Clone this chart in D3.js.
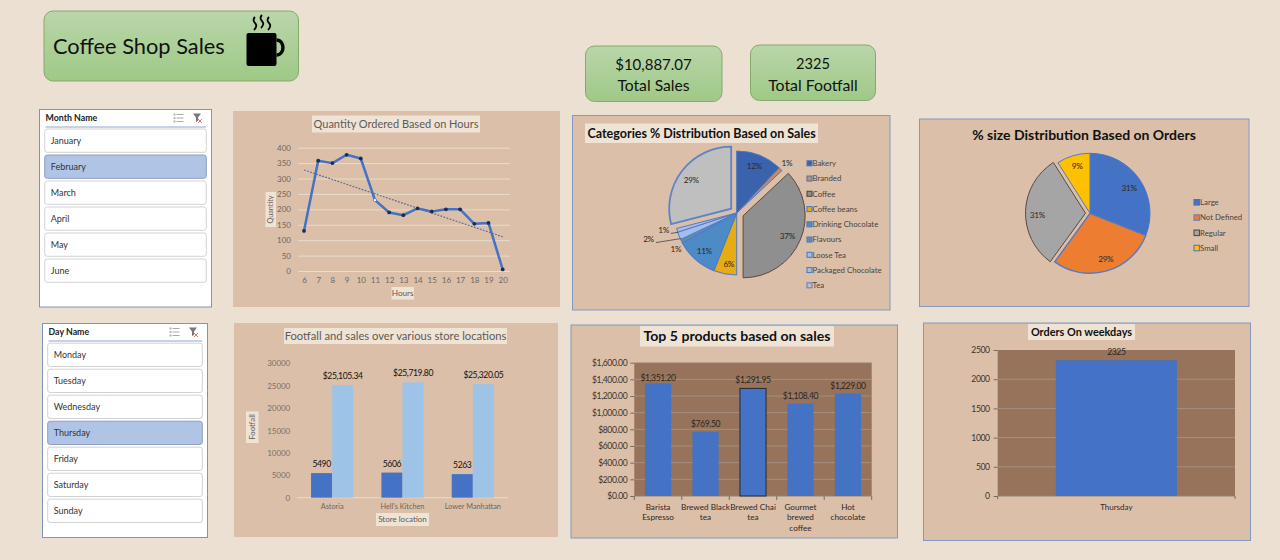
<!DOCTYPE html>
<html>
<head>
<meta charset="utf-8">
<title>Coffee Shop Sales</title>
<script src="https://cdn.jsdelivr.net/npm/d3@7"></script>
<style>
  html, body { margin: 0; padding: 0; background: #ebe0d2; }
  svg { display: block; font-family: Lato, sans-serif; }
  .domain { display: none; }
</style>
</head>
<body>
<svg id="dash" width="1280" height="560"></svg>
<script>
const months = ['January', 'February', 'March', 'April', 'May', 'June'];
const days = ['Monday', 'Tuesday', 'Wednesday', 'Thursday', 'Friday', 'Saturday', 'Sunday'];
const selectedMonth = 'February';
const selectedDay = 'Thursday';

const hours = [6, 7, 8, 9, 10, 11, 12, 13, 14, 15, 16, 17, 18, 19, 20];
const quantity = [130, 358, 350, 377, 365, 230, 190, 181, 203, 193, 200, 200, 153, 156, 5];
const quantityTicks = [0, 50, 100, 150, 200, 250, 300, 350, 400];

const categories = ['Bakery', 'Branded', 'Coffee', 'Coffee beans', 'Drinking Chocolate', 'Flavours', 'Loose Tea', 'Packaged Chocolate', 'Tea'];
const categoryShare = [12, 1, 37, 6, 11, 1, 2, 1, 29];

const sizes = ['Large', 'Not Defined', 'Regular', 'Small'];
const sizeShare = [31, 29, 31, 9];

const stores = ['Astoria', "Hell's Kitchen", 'Lower Manhattan'];
const footfall = [5490, 5606, 5263];
const storeSales = [25105.34, 25719.80, 25320.05];
const storeTicks = [0, 5000, 10000, 15000, 20000, 25000, 30000];

const products = ['Barista Espresso', 'Brewed Black tea', 'Brewed Chai tea', 'Gourmet brewed coffee', 'Hot chocolate'];
const productLines = [['Barista', 'Espresso'], ['Brewed Black', 'tea'], ['Brewed Chai', 'tea'], ['Gourmet', 'brewed', 'coffee'], ['Hot', 'chocolate']];
const productSales = [1351.20, 769.50, 1291.95, 1108.40, 1229.00];
const productTicks = [0, 200, 400, 600, 800, 1000, 1200, 1400, 1600];

const weekdays = ['Thursday'];
const weekdayOrders = [2325];
const weekdayTicks = [0, 500, 1000, 1500, 2000, 2500];

const svg = d3.select('#dash');
const money = d3.format('$,.2f');
const plain = d3.format('d');
const panelFill = '#dbbfa9', boxFill = '#eee3d5', plotFill = '#96735a', blue = '#4472c4', edge = '#8497c0';
const tight = -0.4; // Lato digits run wider than the reference font

const defs = svg.append('defs');
const grad = defs.append('linearGradient').attr('id', 'green').attr('x1', 0).attr('x2', 0).attr('y1', 0).attr('y2', 1);
grad.append('stop').attr('offset', '0%').attr('stop-color', '#b9d6aa');
grad.append('stop').attr('offset', '100%').attr('stop-color', '#9fc986');

function card(x0, y0, x1, y1) {
  svg.append('rect')
    .attr('x', x0).attr('y', y0).attr('width', x1 - x0).attr('height', y1 - y0)
    .attr('rx', 9)
    .attr('fill', 'url(#green)')
    .attr('stroke', '#85ab69');
}

function label(parent, x, y, text, size, color, anchor, weight) {
  return parent.append('text')
    .attr('x', x).attr('y', y)
    .attr('dy', '.35em')
    .attr('text-anchor', anchor || 'middle')
    .attr('font-size', size)
    .attr('font-weight', weight || 'normal')
    .attr('fill', color)
    .text(text);
}

function panel(x0, y0, x1, y1, stroke) {
  svg.append('rect')
    .attr('x', x0).attr('y', y0).attr('width', x1 - x0).attr('height', y1 - y0)
    .attr('fill', panelFill)
    .attr('stroke', stroke || 'none');
}

// little cream box behind chart and axis titles
function box(x0, y0, x1, y1) {
  svg.append('rect')
    .attr('x', x0).attr('y', y0).attr('width', x1 - x0).attr('height', y1 - y0)
    .attr('fill', boxFill);
}

function axisTicks(g, size, color, spacing) {
  g.selectAll('text')
    .attr('font-size', size)
    .attr('font-family', 'Lato, sans-serif')
    .attr('letter-spacing', spacing || 0)
    .attr('fill', color);
}

/* ---------- header and kpis ---------- */
card(44, 11, 298.5, 81);
label(svg, 53, 46.5, 'Coffee Shop Sales', 21.8, '#111', 'start');

const cup = svg.append('g').attr('transform', 'translate(246.5,14)');
cup.append('rect').attr('x', 0).attr('y', 19).attr('width', 30).attr('height', 33).attr('rx', 2).attr('fill', '#000');
cup.append('path').attr('d', 'M30 26 h0.5 a6 7.5 0 0 1 0 15 h-0.5').attr('fill', 'none').attr('stroke', '#000').attr('stroke-width', 3.4);
[7.5, 14.5, 21.5].forEach((sx, i) => {
  cup.append('path')
    .attr('d', `M${sx + 1} ${i === 1 ? 1 : 3} q-3 3 0 6 q3 3 -1 7`)
    .attr('fill', 'none').attr('stroke', '#000').attr('stroke-width', 1.8);
});

card(585.5, 46, 722, 101.5);
label(svg, 653.5, 64.5, '$10,887.07', 15, '#111');
label(svg, 653.5, 85.5, 'Total Sales', 15.7, '#111');
card(750.5, 45, 875.5, 100.5);
label(svg, 813, 63.5, '2325', 14.6, '#111');
label(svg, 813, 85, 'Total Footfall', 15.8, '#111');

/* ---------- slicers ---------- */
function slicer(x0, y0, x1, y1, title, items, selected, inset, topGap) {
  const g = svg.append('g');
  g.append('rect')
    .attr('x', x0).attr('y', y0).attr('width', x1 - x0).attr('height', y1 - y0)
    .attr('fill', '#fff').attr('stroke', '#7f93bd');
  label(g, x0 + 6, y0 + 8.5, title, 8.8, '#222', 'start', 'bold');
  g.append('line')
    .attr('x1', x0 + 6).attr('x2', x1 - 5.5)
    .attr('y1', y0 + 17.5).attr('y2', y0 + 17.5)
    .attr('stroke', '#8ea5cc');

  const rows = g.selectAll('g.row').data(items).join('g')
    .attr('class', 'row')
    .attr('transform', (d, i) => `translate(${x0 + inset},${y0 + topGap + i * 26})`);
  rows.append('rect')
    .attr('width', x1 - x0 - inset * 2).attr('height', 23.3)
    .attr('rx', 2.5)
    .attr('fill', d => d === selected ? '#b0c4e6' : '#fff')
    .attr('stroke', d => d === selected ? '#8f9fbd' : '#d2d2d2');
  rows.append('text')
    .attr('x', 6).attr('y', 12).attr('dy', '.35em')
    .attr('font-size', 9).attr('fill', '#333')
    .text(d => d);

  // multi select and clear filter icons
  const ix = x1 - 33, iy = y0 + 8.5;
  const ico = g.append('g').attr('transform', `translate(${ix},${iy})`);
  [-3.5, 0, 3.5].forEach(dy => {
    ico.append('line').attr('x1', -2).attr('x2', 5).attr('y1', dy).attr('y2', dy).attr('stroke', '#a8a8a8');
    ico.append('rect').attr('x', -5).attr('y', dy - 1).attr('width', 2).attr('height', 2).attr('fill', '#b4b4b4');
  });
  const fil = g.append('g').attr('transform', `translate(${x1 - 14},${iy})`);
  fil.append('path').attr('d', 'M-4.5 -4.5 H3.5 L0.5 -0.5 V3 L-1.5 4 V-0.5 Z').attr('fill', '#777');
  fil.append('path').attr('d', 'M0.5 1 L4.5 5 M4.5 1 L0.5 5').attr('stroke', '#d9776a').attr('stroke-width', 1);
}

slicer(39.5, 109.5, 211.5, 307, 'Month Name', months, selectedMonth, 5.2, 19.5);
slicer(42.5, 323.5, 207.5, 537.5, 'Day Name', days, selectedDay, 5.2, 19.7);

/* ---------- quantity by hour ---------- */
panel(233, 111, 560, 307);
box(312, 115.5, 480, 132.5);
label(svg, 396, 124, 'Quantity Ordered Based on Hours', 11, '#5f5a55');

const hx = d3.scalePoint().domain(hours).range([304, 502.7]);
const hy = d3.scaleLinear().domain([0, 400]).range([271, 147.7]);

svg.append('g')
  .attr('transform', 'translate(298,0)')
  .call(d3.axisLeft(hy).tickValues(quantityTicks).tickSize(-212).tickPadding(7))
  .call(g => g.selectAll('line').attr('stroke', '#e9dccd'))
  .call(g => axisTicks(g, 8, '#6f6660'));

svg.append('g')
  .attr('transform', 'translate(0,271)')
  .call(d3.axisBottom(hx).tickSize(0).tickPadding(6))
  .call(g => axisTicks(g, 8, '#6f6660'));

// linear trend of the hourly quantities
const xMean = d3.mean(hours), yMean = d3.mean(quantity);
const slope = d3.sum(hours, (h, i) => (h - xMean) * (quantity[i] - yMean)) / d3.sum(hours, h => (h - xMean) ** 2);
const trend = [hours[0], hours[hours.length - 1]];
svg.append('path')
  .datum(trend)
  .attr('fill', 'none')
  .attr('stroke', '#5a6c9c')
  .attr('stroke-width', 1.2)
  .attr('stroke-dasharray', '1.8,1.4')
  .attr('d', d3.line().x(d => hx(d)).y(d => hy(yMean + slope * (d - xMean))));

svg.append('path')
  .datum(quantity)
  .attr('fill', 'none')
  .attr('stroke', blue)
  .attr('stroke-width', 2.5)
  .attr('stroke-linejoin', 'round')
  .attr('d', d3.line().x((d, i) => hx(hours[i])).y(d => hy(d)));

svg.selectAll('circle.hour')
  .data(quantity)
  .join('circle')
  .attr('class', 'hour')
  .attr('cx', (d, i) => hx(hours[i]))
  .attr('cy', d => hy(d))
  .attr('r', d => d === 230 ? 1.6 : 1.9)
  .attr('fill', d => d === 230 ? '#fff' : '#1c2c55')
  .attr('stroke', d => d === 230 ? blue : 'none')
  .attr('stroke-width', 0.7);

box(391.5, 287, 414, 299.5);
label(svg, 402.7, 293, 'Hours', 8.2, '#5f5a55');
box(265.5, 192, 276, 227);
label(svg, 0, 0, 'Quantity', 7.2, '#5f5a55').attr('transform', 'translate(270.7,209.5) rotate(-90)');

/* ---------- pies ---------- */
function pieChart(cx, cy, r, values, opts) {
  const pie = d3.pie().sort(null).value(d => d)(values);
  const arc = d3.arc().innerRadius(0).outerRadius(r);
  const rad = Math.PI / 180;
  const polar = (a, dist) => [cx + dist * Math.sin(a), cy - dist * Math.cos(a)];
  const g = svg.append('g');
  g.selectAll('path')
    .data(pie)
    .join('path')
    .attr('d', arc)
    .attr('transform', (d, i) => {
      const mid = (d.startAngle + d.endAngle) / 2;
      const off = opts.explode[i] || 0;
      return `translate(${cx + off * Math.sin(mid)},${cy - off * Math.cos(mid)})`;
    })
    .attr('fill', (d, i) => opts.colors[i])
    .attr('stroke', (d, i) => opts.strokes[i])
    .attr('stroke-width', (d, i) => opts.widths[i])
    .attr('stroke-linejoin', 'miter');

  pie.forEach((d, i) => {
    const mid = (d.startAngle + d.endAngle) / 2;
    const [lx, ly] = polar(mid + (opts.labelTurn[i] || 0) * rad, opts.labelR[i]);
    const lead = opts.leaders && opts.leaders[i];
    if (lead) {
      // inner radius and turn, outer radius and turn
      const p0 = polar(mid + lead[1] * rad, lead[0]), p1 = polar(mid + lead[3] * rad, lead[2]);
      g.append('line')
        .attr('x1', p0[0]).attr('y1', p0[1]).attr('x2', p1[0]).attr('y2', p1[1])
        .attr('stroke', '#333').attr('stroke-width', 0.7);
    }
    label(g, lx, ly, d.value + '%', 8.2, opts.labelColor).attr('letter-spacing', -0.3);
  });
}

function legend(x, y0, step, size, names, colors, strokes) {
  const rows = svg.append('g').selectAll('g').data(names).join('g')
    .attr('transform', (d, i) => `translate(${x},${y0 + i * step})`);
  rows.append('rect')
    .attr('x', 0).attr('y', -size / 2).attr('width', size).attr('height', size)
    .attr('fill', (d, i) => colors[i])
    .attr('stroke', (d, i) => strokes[i])
    .attr('stroke-width', 1.1);
  rows.append('text')
    .attr('x', size + 0.5).attr('dy', '.35em')
    .attr('font-size', 7.8).attr('fill', '#4a443f')
    .text(d => d);
}

panel(572.5, 115.5, 890, 310, edge);
box(585, 123.5, 818, 143);
label(svg, 587.5, 133.5, 'Categories % Distribution Based on Sales', 12.5, '#111', 'start', 'bold');

const catColors = ['#3a62ad', '#c98a5c', '#8f8f8f', '#e6ac12', '#4c8bc6', '#5f8fa8', '#a3bdec', '#a9bde0', '#bfbfbf'];
const catStrokes = ['#4a76c2', '#4a76c2', '#5c4a3e', '#4f7bc8', '#4f7bc8', '#4f7bc8', '#4f7bc8', '#4f7bc8', '#5b85c8'];
pieChart(736.7, 213, 62, categoryShare, {
  colors: catColors,
  strokes: catStrokes,
  widths: [1, 1, 1, 1, 1.2, 1, 1, 1, 1.8],
  explode: [0, 0, 7, 0, 0, 0, 0, 0, 7],
  labelR: [50, 71, 55.7, 52, 50, 71, 92, 75, 56],
  labelTurn: [-1, 0, 1, -2, -1, -4, 5, 3, -2],
  leaders: [null, null, null, null, null, null, [61.5, -3, 86, 1.5], [61.8, -2, 69, -1], null],
  labelColor: '#2a2a2a'
});
legend(807, 163.3, 15.25, 5, categories, catColors, catStrokes);

panel(919.5, 119, 1249, 306.5, edge);
label(svg, 1084, 135, '% size Distribution Based on Orders', 14, '#111', 'middle', 'bold');

const sizeColors = ['#4472c4', '#ed7d31', '#a5a5a5', '#ffc000'];
const sizeStrokes = ['#4a76c2', '#4f7bc8', '#5c4a3e', '#4f7bc8'];
pieChart(1090, 213.3, 60, sizeShare, {
  colors: sizeColors,
  strokes: sizeStrokes,
  widths: [1, 1.4, 1, 1],
  explode: [0, 0, 4.5, 0],
  labelR: [46.7, 48, 52.7, 49],
  labelTurn: [1, -3, -4, 1],
  labelColor: '#2a2a2a'
});
legend(1194, 202.3, 15.25, 5.5, sizes, sizeColors, ['#4472c4', '#6f7fc0', '#5c4a3e', '#4f7bc8']);

/* ---------- footfall and sales by store ---------- */
panel(234, 323, 558, 537);
box(284, 328, 507, 344);
label(svg, 395.5, 336.5, 'Footfall and sales over various store locations', 11.2, '#5f5a55');

const sx = d3.scaleBand().domain(stores).range([297, 508]).paddingInner(0.4).paddingOuter(0.2);
const sy = d3.scaleLinear().domain([0, 30000]).range([497.7, 363.3]);

svg.append('g')
  .attr('transform', 'translate(297,0)')
  .call(d3.axisLeft(sy).tickValues(storeTicks).tickFormat(plain).tickSize(0).tickPadding(7))
  .call(g => axisTicks(g, 8, '#7b7068', -0.1));

svg.append('g')
  .attr('transform', 'translate(0,497.7)')
  .call(d3.axisBottom(sx).tickSize(0).tickPadding(6.5))
  .call(g => axisTicks(g, 7.3, '#6f6660'));

svg.append('line')
  .attr('x1', 297).attr('x2', 508).attr('y1', 497.7).attr('y2', 497.7)
  .attr('stroke', '#e9dccd');

const half = sx.bandwidth() / 2;
svg.selectAll('rect.foot')
  .data(footfall)
  .join('rect')
  .attr('class', 'foot')
  .attr('x', (d, i) => sx(stores[i]))
  .attr('y', d => sy(d))
  .attr('width', half)
  .attr('height', d => sy(0) - sy(d))
  .attr('fill', blue);

svg.selectAll('rect.sale')
  .data(storeSales)
  .join('rect')
  .attr('class', 'sale')
  .attr('x', (d, i) => sx(stores[i]) + half)
  .attr('y', d => sy(d))
  .attr('width', half)
  .attr('height', d => sy(0) - sy(d))
  .attr('fill', '#9dc3e6');

footfall.forEach((d, i) => label(svg, sx(stores[i]) + half / 2, sy(d) - 9, d, 8.6, '#111').attr('letter-spacing', tight));
storeSales.forEach((d, i) => label(svg, sx(stores[i]) + half * 1.5, sy(d) - 9, money(d), 8.6, '#111').attr('letter-spacing', tight));

box(246, 411.5, 258.5, 443);
label(svg, 0, 0, 'Footfall', 7.8, '#5f5a55').attr('transform', 'translate(252.2,427) rotate(-90)');
box(376, 513, 429, 526);
label(svg, 402.5, 519.5, 'Store location', 8, '#5f5a55');

/* ---------- top products ---------- */
panel(571, 325, 897.5, 538, edge);
box(640, 326, 834, 346.5);
label(svg, 737, 336.5, 'Top 5 products based on sales', 14.1, '#111', 'middle', 'bold');

const px = d3.scaleBand().domain(products).range([634.3, 871.7]).paddingInner(0.45).paddingOuter(0.225);
const py = d3.scaleLinear().domain([0, 1600]).range([496, 362.7]);

svg.append('rect')
  .attr('x', 634.3).attr('y', py(1600))
  .attr('width', 237.4).attr('height', py(0) - py(1600))
  .attr('fill', plotFill);

svg.append('g')
  .attr('transform', 'translate(634.3,0)')
  .call(d3.axisLeft(py).tickValues(productTicks).tickFormat(money).tickSize(4).tickPadding(3))
  .call(g => g.selectAll('line').attr('stroke', '#7a6a5e'))
  .call(g => axisTicks(g, 8.6, '#3a332e', tight));

svg.append('g').selectAll('line')
  .data(productTicks.slice(1))
  .join('line')
  .attr('x1', 634.3).attr('x2', 871.7)
  .attr('y1', d => py(d)).attr('y2', d => py(d))
  .attr('stroke', '#a8988a').attr('stroke-width', 0.8);

svg.append('g').selectAll('line')
  .data(d3.range(products.length + 1))
  .join('line')
  .attr('x1', d => 634.3 + d * px.step()).attr('x2', d => 634.3 + d * px.step())
  .attr('y1', 496).attr('y2', 500)
  .attr('stroke', '#7a6a5e');
svg.append('line').attr('x1', 634.3).attr('x2', 871.7).attr('y1', 496).attr('y2', 496).attr('stroke', '#8f8479');

svg.selectAll('rect.prod')
  .data(productSales)
  .join('rect')
  .attr('class', 'prod')
  .attr('x', (d, i) => px(products[i]))
  .attr('y', d => py(d))
  .attr('width', px.bandwidth())
  .attr('height', d => py(0) - py(d))
  .attr('fill', blue)
  .attr('stroke', (d, i) => i === 2 ? '#222' : 'none')
  .attr('stroke-width', 0.9);

productSales.forEach((d, i) => {
  const xc = px(products[i]) + px.bandwidth() / 2;
  label(svg, xc, py(d) - (i === 0 ? 5.5 : 8), money(d), 8.6, '#2b2622').attr('letter-spacing', tight);
  productLines[i].forEach((t, k) => label(svg, xc, 507.3 + k * 10.2, t, 8.2, '#2f2a26'));
});

/* ---------- orders on weekdays ---------- */
panel(923.5, 323, 1250.5, 540.5, edge);
box(1028, 324, 1135, 340);
label(svg, 1081.5, 332, 'Orders On weekdays', 10.9, '#111', 'middle', 'bold');

const wx = d3.scaleBand().domain(weekdays).range([997.7, 1235]).paddingInner(0.49).paddingOuter(0.245);
const wy = d3.scaleLinear().domain([0, 2500]).range([496, 350]);

svg.append('rect')
  .attr('x', 997.7).attr('y', wy(2500))
  .attr('width', 237.3).attr('height', wy(0) - wy(2500))
  .attr('fill', plotFill);

svg.append('g')
  .attr('transform', 'translate(997.7,0)')
  .call(d3.axisLeft(wy).tickValues(weekdayTicks).tickFormat(plain).tickSize(4).tickPadding(4))
  .call(g => g.selectAll('line').attr('stroke', '#7a6a5e'))
  .call(g => axisTicks(g, 8.6, '#3a332e', tight));

svg.append('g').selectAll('line')
  .data(weekdayTicks.slice(1, -1))
  .join('line')
  .attr('x1', 997.7).attr('x2', 1235)
  .attr('y1', d => wy(d)).attr('y2', d => wy(d))
  .attr('stroke', '#a8988a').attr('stroke-width', 0.8);

svg.append('line').attr('x1', 997.7).attr('x2', 1235).attr('y1', 496).attr('y2', 496).attr('stroke', '#8f8479');
[997.7, 1235].forEach(tx => {
  svg.append('line').attr('x1', tx).attr('x2', tx).attr('y1', 496).attr('y2', 499).attr('stroke', '#7a6a5e');
});

svg.selectAll('rect.wday')
  .data(weekdayOrders)
  .join('rect')
  .attr('class', 'wday')
  .attr('x', (d, i) => wx(weekdays[i]))
  .attr('y', d => wy(d))
  .attr('width', wx.bandwidth())
  .attr('height', d => wy(0) - wy(d))
  .attr('fill', blue);

weekdayOrders.forEach((d, i) => {
  const xc = wx(weekdays[i]) + wx.bandwidth() / 2;
  label(svg, xc, wy(d) - 8, d, 8.6, '#2b2622').attr('letter-spacing', tight);
  label(svg, xc, 507.3, weekdays[i], 8, '#2f2a26');
});
</script>
</body>
</html>
